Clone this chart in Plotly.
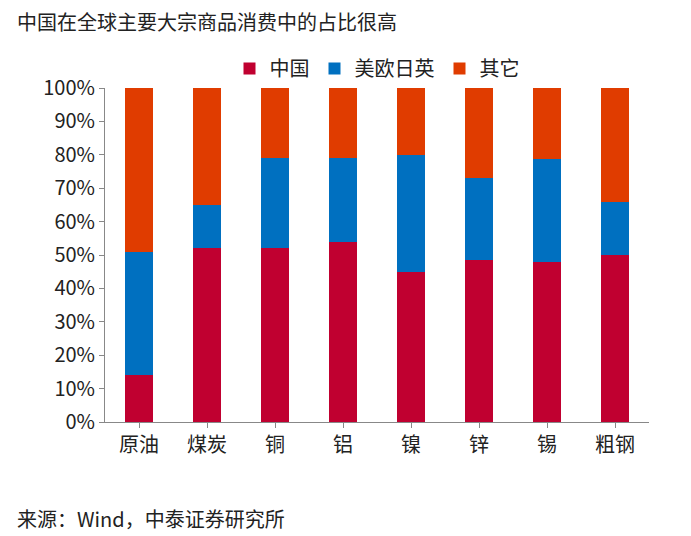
import plotly.graph_objects as go

categories = ["原油", "煤炭", "铜", "铝", "镍", "锌", "锡", "粗钢"]
china = [14, 52, 52, 54, 45, 48.5, 48, 50]
west = [37, 13, 27, 25, 35, 24.5, 30.7, 16]
other = [49, 35, 21, 21, 20, 27, 21.3, 34]

font = "Noto Sans CJK SC"
fig = go.Figure()
for name, vals, col in [("中国", china, "#C00030"), ("美欧日英", west, "#0070C0"), ("其它", other, "#E03C00")]:
    fig.add_bar(x=categories, y=vals, name=name, marker_color=col, marker_line_width=0)

fig.update_layout(
    barmode="stack", bargap=0.6, width=691, height=536,
    plot_bgcolor="white", paper_bgcolor="white",
    font=dict(family=font, size=20, color="#222"),
    margin=dict(l=97, r=50, t=80, b=122),
    legend=dict(orientation="h", x=0.5, xanchor="center", y=1.0, yanchor="bottom",
                font=dict(size=20), itemwidth=30, traceorder="normal"),
    xaxis=dict(showline=True, linecolor="#888", ticks="outside", tickcolor="#888", ticklen=5),
    yaxis=dict(range=[0, 100], dtick=10, ticksuffix="%", showline=True, linecolor="#888",
               ticks="outside", tickcolor="#888", showgrid=False, ticklen=5),
    annotations=[
        dict(text="中国在全球主要大宗商品消费中的占比很高", xref="paper", yref="paper", x=-0.165, y=1.0,
             xanchor="left", yanchor="bottom", yshift=50, showarrow=False, font=dict(size=20)),
        dict(text="来源：Wind，中泰证券研究所", xref="paper", yref="paper", x=-0.165, y=0,
             xanchor="left", yanchor="top", yshift=-80, showarrow=False, font=dict(size=20)),
    ],
)
fig.write_html("out.html")
